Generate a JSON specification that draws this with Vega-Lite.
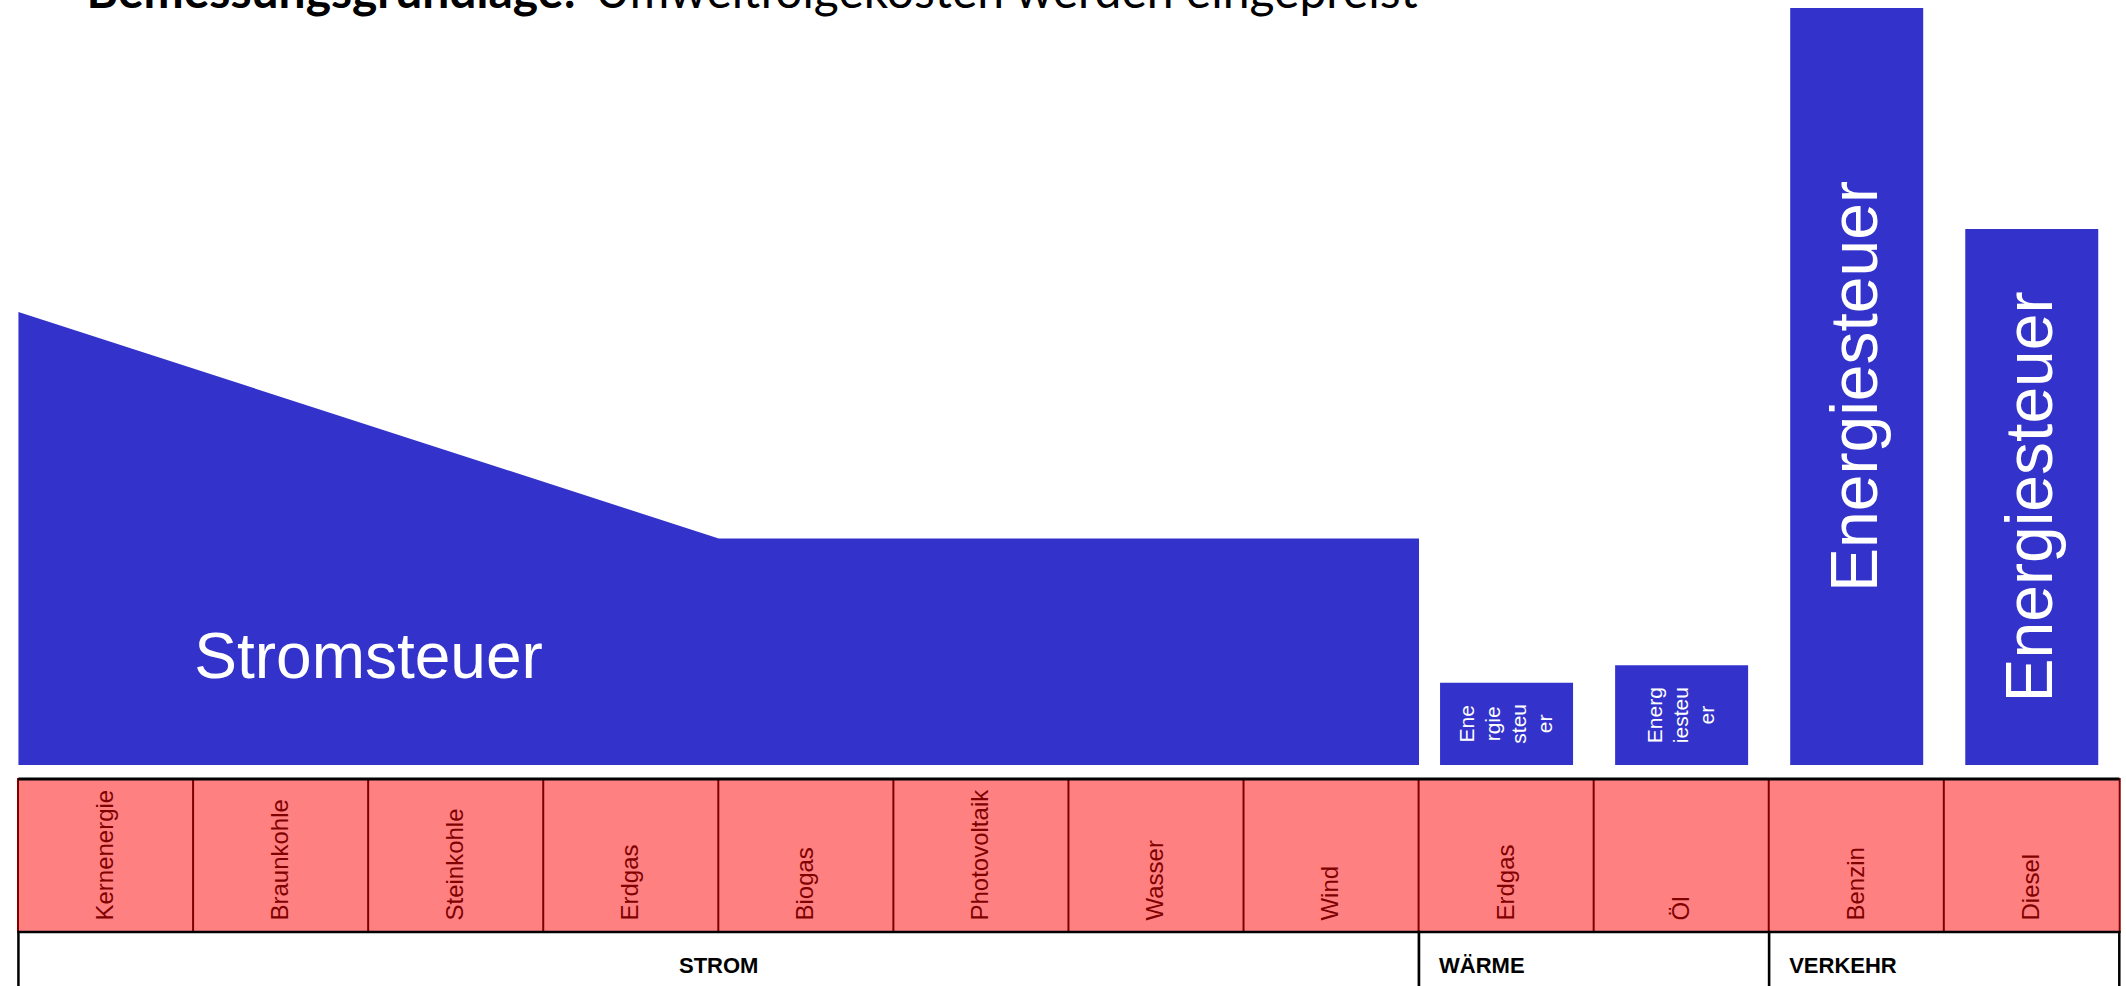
{
  "$schema": "https://vega.github.io/schema/vega-lite/v6.json",
  "width": 2126,
  "height": 986,
  "autosize": {"type": "none"},
  "padding": 0,
  "background": "white",
  "config": {"view": {"stroke": null}},
  "datasets": {
    "strom": [
      {"x": -0.5, "steuer": 60},
      {"x": 3.5, "steuer": 30},
      {"x": 7.5, "steuer": 30}
    ],
    "balken": [
      {"slot": 8, "sektor": "WÄRME", "traeger": "Erdgas", "steuer": 10.9, "label": "Ene\nrgie\nsteu\ner"},
      {"slot": 9, "sektor": "WÄRME", "traeger": "Öl", "steuer": 13.2, "label": "Energ\niesteu\ner"},
      {"slot": 10, "sektor": "VERKEHR", "traeger": "Benzin", "steuer": 100.26, "label": "Energiesteuer"},
      {"slot": 11, "sektor": "VERKEHR", "traeger": "Diesel", "steuer": 71.0, "label": "Energiesteuer"}
    ],
    "traeger": [
      {"slot": 0, "name": "Kernenergie", "sektor": "STROM"},
      {"slot": 1, "name": "Braunkohle", "sektor": "STROM"},
      {"slot": 2, "name": "Steinkohle", "sektor": "STROM"},
      {"slot": 3, "name": "Erdgas", "sektor": "STROM"},
      {"slot": 4, "name": "Biogas", "sektor": "STROM"},
      {"slot": 5, "name": "Photovoltaik", "sektor": "STROM"},
      {"slot": 6, "name": "Wasser", "sektor": "STROM"},
      {"slot": 7, "name": "Wind", "sektor": "STROM"},
      {"slot": 8, "name": "Erdgas", "sektor": "WÄRME"},
      {"slot": 9, "name": "Öl", "sektor": "WÄRME"},
      {"slot": 10, "name": "Benzin", "sektor": "VERKEHR"},
      {"slot": 11, "name": "Diesel", "sektor": "VERKEHR"}
    ],
    "sektoren": [
      {"sektor": "STROM", "start": -0.5, "ende": 7.5},
      {"sektor": "WÄRME", "start": 7.5, "ende": 9.5},
      {"sektor": "VERKEHR", "start": 9.5, "ende": 11.5}
    ]
  },
  "resolve": {"scale": {"y": "independent"}},
  "layer": [
    {
      "data": {"name": "strom"},
      "mark": {"type": "area", "color": "#3333CC", "interpolate": "linear"},
      "encoding": {
        "x": {"field": "x", "type": "quantitative", "scale": {"domain": [-0.5767, 11.5097], "nice": false, "zero": false}, "axis": null},
        "y": {"field": "steuer", "type": "quantitative", "scale": {"domain": [-29.27, 101.32], "nice": false, "zero": false}, "axis": null},
        "y2": {"datum": 0}
      }
    },
    {
      "data": {"name": "balken"},
      "mark": {"type": "bar", "color": "#3333CC", "width": 133, "orient": "vertical"},
      "encoding": {
        "x": {"field": "slot", "type": "quantitative", "scale": {"domain": [-0.5767, 11.5097], "nice": false, "zero": false}, "axis": null},
        "y": {"field": "steuer", "type": "quantitative", "scale": {"domain": [-29.27, 101.32], "nice": false, "zero": false}, "axis": null},
        "y2": {"datum": 0}
      }
    },
    {
      "data": {"name": "balken"},
      "transform": [{"filter": "datum.sektor === 'VERKEHR'"}],
      "mark": {"type": "text", "angle": 270, "align": "center", "baseline": "middle", "font": "Liberation Sans", "fontSize": 66, "color": "white"},
      "encoding": {
        "x": {"field": "slot", "type": "quantitative", "scale": {"domain": [-0.5767, 11.5097], "nice": false, "zero": false}, "axis": null},
        "y": {"field": "steuer", "type": "quantitative", "scale": {"domain": [-58.54, 202.64], "nice": false, "zero": false}, "axis": null},
        "text": {"field": "label"}
      }
    },
    {
      "data": {"name": "balken"},
      "transform": [{"filter": "datum.traeger === 'Erdgas'"}],
      "mark": {"type": "text", "angle": 270, "align": "center", "baseline": "middle", "dy": -39, "font": "Liberation Sans", "fontSize": 21, "lineHeight": 26, "lineBreak": "\n", "color": "white"},
      "encoding": {
        "x": {"field": "slot", "type": "quantitative", "scale": {"domain": [-0.5767, 11.5097], "nice": false, "zero": false}, "axis": null},
        "y": {"field": "steuer", "type": "quantitative", "scale": {"domain": [-58.54, 202.64], "nice": false, "zero": false}, "axis": null},
        "text": {"field": "label"}
      }
    },
    {
      "data": {"name": "balken"},
      "transform": [{"filter": "datum.traeger === 'Öl'"}],
      "mark": {"type": "text", "angle": 270, "align": "center", "baseline": "middle", "dy": -26, "font": "Liberation Sans", "fontSize": 21, "lineHeight": 26, "lineBreak": "\n", "color": "white"},
      "encoding": {
        "x": {"field": "slot", "type": "quantitative", "scale": {"domain": [-0.5767, 11.5097], "nice": false, "zero": false}, "axis": null},
        "y": {"field": "steuer", "type": "quantitative", "scale": {"domain": [-58.54, 202.64], "nice": false, "zero": false}, "axis": null},
        "text": {"field": "label"}
      }
    },
    {
      "data": {"values": [{"label": "Stromsteuer"}]},
      "mark": {"type": "text", "align": "center", "baseline": "alphabetic", "font": "Liberation Sans", "fontSize": 64, "color": "white"},
      "encoding": {
        "x": {"datum": 1.5, "type": "quantitative", "scale": {"domain": [-0.5767, 11.5097], "nice": false, "zero": false}, "axis": null},
        "y": {"datum": 11.5, "type": "quantitative", "scale": {"domain": [-29.27, 101.32], "nice": false, "zero": false}, "axis": null},
        "text": {"field": "label"}
      }
    },
    {
      "data": {"name": "traeger"},
      "mark": {"type": "bar", "fill": "#FF8080", "stroke": "#800000", "strokeWidth": 2, "width": 175.9, "orient": "vertical"},
      "encoding": {
        "x": {"field": "slot", "type": "quantitative", "scale": {"domain": [-0.5767, 11.5097], "nice": false, "zero": false}, "axis": null},
        "y": {"datum": -1.854, "type": "quantitative", "scale": {"domain": [-29.27, 101.32], "nice": false, "zero": false}, "axis": null},
        "y2": {"datum": -22.12}
      }
    },
    {
      "data": {"name": "traeger"},
      "mark": {"type": "text", "angle": 270, "align": "left", "baseline": "middle", "font": "Liberation Sans", "fontSize": 24, "color": "#800000"},
      "encoding": {
        "x": {"field": "slot", "type": "quantitative", "scale": {"domain": [-0.5767, 11.5097], "nice": false, "zero": false}, "axis": null},
        "y": {"datum": -20.6, "type": "quantitative", "scale": {"domain": [-29.27, 101.32], "nice": false, "zero": false}, "axis": null},
        "text": {"field": "name"}
      }
    },
    {
      "data": {"name": "sektoren"},
      "mark": {"type": "rect", "fill": "white", "stroke": "black", "strokeWidth": 2.5},
      "encoding": {
        "x": {"field": "start", "type": "quantitative", "scale": {"domain": [-0.5767, 11.5097], "nice": false, "zero": false}, "axis": null},
        "x2": {"field": "ende"},
        "y": {"datum": -22.12, "type": "quantitative", "scale": {"domain": [-29.27, 101.32], "nice": false, "zero": false}, "axis": null},
        "y2": {"datum": -40}
      }
    },
    {
      "data": {"name": "sektoren"},
      "mark": {"type": "rule", "stroke": "black", "strokeWidth": 3},
      "encoding": {
        "x": {"field": "start", "type": "quantitative", "scale": {"domain": [-0.5767, 11.5097], "nice": false, "zero": false}, "axis": null},
        "x2": {"field": "ende"},
        "y": {"datum": -1.854, "type": "quantitative", "scale": {"domain": [-29.27, 101.32], "nice": false, "zero": false}, "axis": null}
      }
    },
    {
      "data": {"name": "sektoren"},
      "transform": [{"filter": "datum.sektor !== 'STROM'"}],
      "mark": {"type": "text", "align": "left", "baseline": "alphabetic", "dx": 20, "font": "Liberation Sans", "fontWeight": "bold", "fontSize": 22, "color": "black"},
      "encoding": {
        "x": {"field": "start", "type": "quantitative", "scale": {"domain": [-0.5767, 11.5097], "nice": false, "zero": false}, "axis": null},
        "y": {"datum": -27.55, "type": "quantitative", "scale": {"domain": [-29.27, 101.32], "nice": false, "zero": false}, "axis": null},
        "text": {"field": "sektor"}
      }
    },
    {
      "data": {"name": "sektoren"},
      "transform": [{"filter": "datum.sektor === 'STROM'"}],
      "mark": {"type": "text", "align": "center", "baseline": "alphabetic", "font": "Liberation Sans", "fontWeight": "bold", "fontSize": 22, "color": "black"},
      "encoding": {
        "x": {"datum": 3.5, "type": "quantitative", "scale": {"domain": [-0.5767, 11.5097], "nice": false, "zero": false}, "axis": null},
        "y": {"datum": -27.55, "type": "quantitative", "scale": {"domain": [-29.27, 101.32], "nice": false, "zero": false}, "axis": null},
        "text": {"field": "sektor"}
      }
    },
    {
      "data": {"values": [{"teil": "Bemessungsgrundlage:"}]},
      "mark": {"type": "text", "align": "left", "baseline": "alphabetic", "font": "Lato", "fontWeight": "bold", "fontSize": 48, "color": "black"},
      "encoding": {
        "x": {"datum": -0.1105, "type": "quantitative", "scale": {"domain": [-0.5767, 11.5097], "nice": false, "zero": false}, "axis": null},
        "y": {"datum": 100.22, "type": "quantitative", "scale": {"domain": [-29.27, 101.32], "nice": false, "zero": false}, "axis": null},
        "text": {"field": "teil"}
      }
    },
    {
      "data": {"values": [{"teil": "Umweltfolgekosten werden eingepreist"}]},
      "mark": {"type": "text", "align": "left", "baseline": "alphabetic", "font": "Lato", "fontSize": 48, "color": "black"},
      "encoding": {
        "x": {"datum": 2.794, "type": "quantitative", "scale": {"domain": [-0.5767, 11.5097], "nice": false, "zero": false}, "axis": null},
        "y": {"datum": 100.22, "type": "quantitative", "scale": {"domain": [-29.27, 101.32], "nice": false, "zero": false}, "axis": null},
        "text": {"field": "teil"}
      }
    }
  ]
}
